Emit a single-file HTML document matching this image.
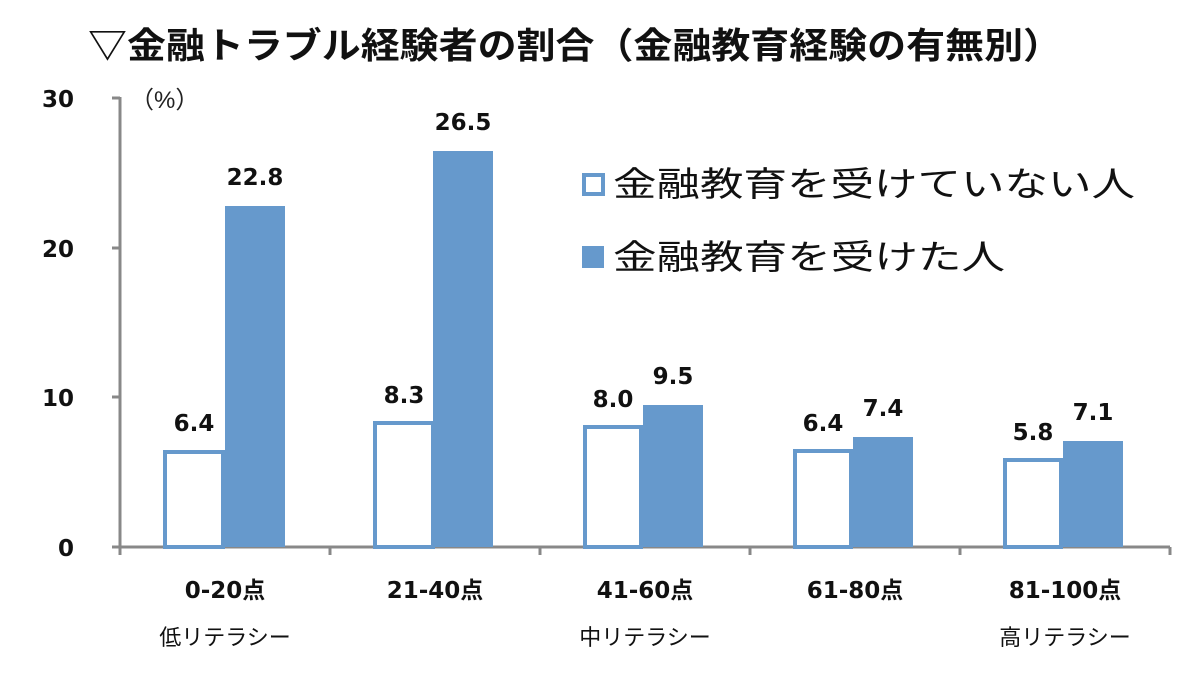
<!DOCTYPE html>
<html><head><meta charset="utf-8"><style>body{margin:0;background:#fff}svg{display:block}</style></head><body>
<svg width="1200" height="691" xmlns="http://www.w3.org/2000/svg" font-family="'Liberation Sans','Noto Sans CJK JP',sans-serif">
<rect width="1200" height="691" fill="#fff"/>
<text x="88" y="58" font-size="36" font-weight="bold" textLength="974" lengthAdjust="spacingAndGlyphs" fill="#111">▽金融トラブル経験者の割合（金融教育経験の有無別）</text>
<text x="130" y="108" font-size="24" fill="#222">（%）</text>
<g stroke="#888" stroke-width="3" fill="none">
<line x1="120" y1="97" x2="120" y2="555"/>
<line x1="112" y1="547" x2="1170" y2="547"/>
<line x1="112" y1="98" x2="120" y2="98"/>
<line x1="112" y1="248" x2="120" y2="248"/>
<line x1="112" y1="397" x2="120" y2="397"/>
<line x1="330" y1="547" x2="330" y2="555"/>
<line x1="540" y1="547" x2="540" y2="555"/>
<line x1="750" y1="547" x2="750" y2="555"/>
<line x1="960" y1="547" x2="960" y2="555"/>
<line x1="1170" y1="547" x2="1170" y2="555"/>
</g>
<g font-family="'DejaVu Sans','Noto Sans CJK JP',sans-serif" font-size="23" font-weight="bold" fill="#111" text-anchor="end">
<text x="74" y="107">30</text><text x="74" y="257">20</text><text x="74" y="406">10</text><text x="74" y="556">0</text>
</g>
<g fill="#fff" stroke="#6699cc" stroke-width="4">
<rect x="165" y="452" width="58" height="95"/>
<rect x="375" y="423" width="58" height="124"/>
<rect x="585" y="427" width="56" height="120"/>
<rect x="795" y="451" width="56" height="96"/>
<rect x="1005" y="460" width="56" height="87"/>
</g>
<g fill="#6699cc">
<rect x="225" y="206" width="60" height="341"/>
<rect x="433" y="151" width="60" height="396"/>
<rect x="643" y="405" width="60" height="142"/>
<rect x="853" y="437" width="60" height="110"/>
<rect x="1063" y="441" width="60" height="106"/>
</g>
<g font-family="'DejaVu Sans','Noto Sans CJK JP',sans-serif" font-size="23" font-weight="bold" fill="#111" text-anchor="middle">
<text x="194" y="431">6.4</text><text x="255" y="185">22.8</text>
<text x="404" y="403">8.3</text><text x="463" y="130">26.5</text>
<text x="613" y="407">8.0</text><text x="673" y="384">9.5</text>
<text x="823" y="431">6.4</text><text x="883" y="416">7.4</text>
<text x="1033" y="440">5.8</text><text x="1093" y="420">7.1</text>
</g>
<g font-family="'DejaVu Sans','Noto Sans CJK JP',sans-serif" font-size="23" font-weight="bold" fill="#111" text-anchor="middle">
<text x="225" y="598">0-20点</text><text x="435" y="598">21-40点</text><text x="645" y="598">41-60点</text><text x="855" y="598">61-80点</text><text x="1065" y="598">81-100点</text>
</g>
<g font-size="22" fill="#111" text-anchor="middle">
<text x="225" y="645">低リテラシー</text><text x="645" y="645">中リテラシー</text><text x="1065" y="645">高リテラシー</text>
</g>
<rect x="584" y="175" width="19" height="19" fill="#fff" stroke="#6699cc" stroke-width="4"/>
<rect x="582" y="246" width="22" height="22" fill="#6699cc"/>
<text x="613" y="196" font-size="34" textLength="522" lengthAdjust="spacingAndGlyphs" fill="#111">金融教育を受けていない人</text>
<text x="613" y="269" font-size="34" textLength="392" lengthAdjust="spacingAndGlyphs" fill="#111">金融教育を受けた人</text>
</svg>
</body></html>
